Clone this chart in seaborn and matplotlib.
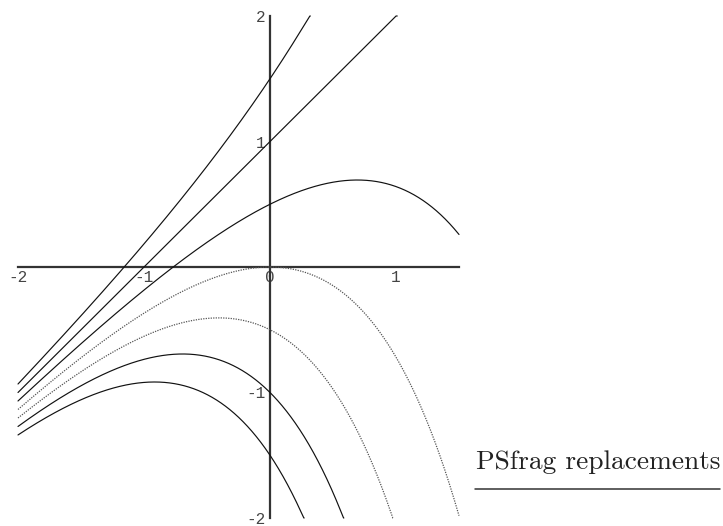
import numpy as np
import pandas as pd
import matplotlib
matplotlib.use("Agg")
import matplotlib.pyplot as plt
import seaborn as sns

# Solutions of y' = y - x :  y = x + 1 + C * exp(x)
constants = [0.5, 0.0, -0.5, -1.0, -1.5, -2.0, -2.5]
dotted = [False, False, False, True, True, False, False]

x_min, x_max = -2.0, 1.5
y_min, y_max = -2.0, 2.0

x_ticks = [-2, -1, 0, 1]
x_tick_labels = ["-2", "-1", "0", "1"]
y_ticks = [-2, -1, 1, 2]
y_tick_labels = ["-2", "-1", "1", "2"]

sns.set_style("white")

fig = plt.figure(figsize=(7.23, 5.26), dpi=100)
ax = fig.add_axes([0, 0, 1, 1])
ax.set_facecolor("white")

xs = np.linspace(x_min, x_max, 3000)
for c, is_dotted in zip(constants, dotted):
    ys = xs + 1 + c * np.exp(xs)
    keep = (ys >= y_min - 0.01) & (ys <= y_max + 0.01)
    df = pd.DataFrame({"x": xs[keep], "y": np.clip(ys[keep], y_min, y_max)})
    if is_dotted:
        sns.lineplot(data=df, x="x", y="y", ax=ax, color="#555555",
                     linewidth=0.9, linestyle=(0, (1.0, 1.0)), sort=False)
    else:
        sns.lineplot(data=df, x="x", y="y", ax=ax, color="#111111",
                     linewidth=0.85, sort=False)

# pixel mapping: x=0 at 270 px, 126 px/unit ; y=0 at 267 px, 125.5 px/unit
ax.set_xlim(-270 / 126, (723 - 270) / 126)
ax.set_ylim(-(526 - 267) / 125.5, 267 / 125.5)

for side in ("top", "right"):
    ax.spines[side].set_visible(False)
ax.spines["left"].set_position(("data", 0))
ax.spines["bottom"].set_position(("data", 0))
ax.spines["left"].set_bounds(y_min, y_max)
ax.spines["bottom"].set_bounds(x_min, x_max)
for side in ("left", "bottom"):
    ax.spines[side].set_linewidth(1.6)
    ax.spines[side].set_color("#333333")
    ax.spines[side].set_zorder(1)

tick_font = dict(family="Liberation Mono", size=11.5)
ax.set_xticks(x_ticks)
ax.set_xticklabels(x_tick_labels, color="#444444", **tick_font)
ax.set_yticks(y_ticks)
ax.set_yticklabels(y_tick_labels, color="#444444", **tick_font)
ax.tick_params(axis="both", direction="inout", length=7, width=1.0,
               color="#333333", pad=0)
ax.tick_params(axis="x", pad=-1)
ax.set_xlabel("")
ax.set_ylabel("")

# caption with rule underneath
fig.text(476 / 723, 1 - 469 / 526, "PSfrag replacements", family="cmr10",
         fontsize=19.7, color="#222222", ha="left", va="baseline")
fig.add_artist(plt.Line2D([475 / 723, 720 / 723], [1 - 489 / 526, 1 - 489 / 526],
                          color="#333333", linewidth=1.1))

fig.savefig("out.png", dpi=100)
